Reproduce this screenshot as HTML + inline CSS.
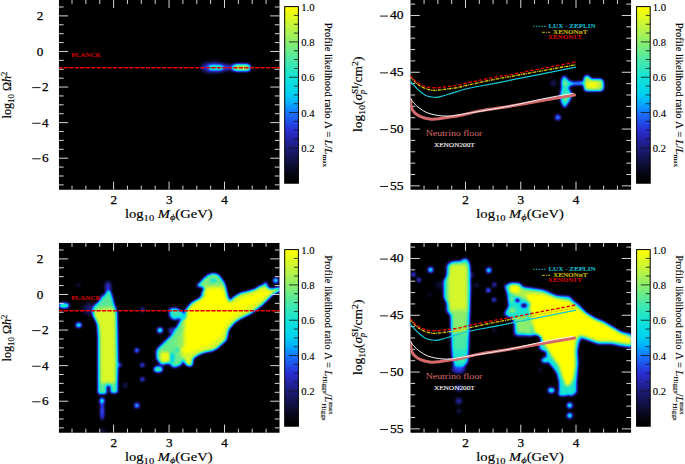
<!DOCTYPE html><html><head><meta charset="utf-8"><style>html,body{margin:0;padding:0;background:#fff;overflow:hidden}svg{display:block}text{font-family:"Liberation Serif",serif;stroke:#000;stroke-width:0.25px}</style></head><body>
<svg width="685" height="464" viewBox="0 0 685 464">
<defs>
<filter id="cm" x="0" y="0" width="1" height="1" color-interpolation-filters="sRGB"><feGaussianBlur stdDeviation="1.6"/><feComponentTransfer><feFuncR type="table" tableValues="0.000 0.004 0.016 0.031 0.051 0.067 0.078 0.094 0.110 0.125 0.137 0.153 0.165 0.145 0.125 0.106 0.086 0.055 0.020 0.012 0.000 0.020 0.035 0.051 0.071 0.125 0.184 0.239 0.294 0.357 0.424 0.486 0.549 0.608 0.671 0.729 0.792 0.843 0.894 0.949 1.000"/><feFuncG type="table" tableValues="0.000 0.004 0.016 0.031 0.051 0.067 0.078 0.094 0.110 0.125 0.141 0.161 0.176 0.247 0.318 0.392 0.463 0.565 0.667 0.741 0.816 0.835 0.855 0.875 0.894 0.898 0.902 0.910 0.914 0.918 0.925 0.929 0.933 0.941 0.949 0.953 0.961 0.973 0.980 0.988 1.000"/><feFuncB type="table" tableValues="0.000 0.024 0.067 0.129 0.196 0.267 0.337 0.408 0.478 0.565 0.655 0.745 0.831 0.875 0.918 0.957 1.000 0.996 0.988 0.969 0.949 0.922 0.894 0.871 0.843 0.792 0.745 0.694 0.647 0.592 0.533 0.478 0.424 0.373 0.322 0.267 0.216 0.161 0.110 0.055 0.000"/></feComponentTransfer></filter>
<filter id="b2" x="-1" y="-1" width="3" height="3" color-interpolation-filters="sRGB"><feGaussianBlur stdDeviation="1.6"/></filter>
<filter id="b3" x="-1" y="-1" width="3" height="3" color-interpolation-filters="sRGB"><feGaussianBlur stdDeviation="2.4"/></filter>
<linearGradient id="cbg" x1="0" y1="1" x2="0" y2="0">
<stop offset="0.000" stop-color="rgb(0,0,0)"/>
<stop offset="0.025" stop-color="rgb(1,1,6)"/>
<stop offset="0.050" stop-color="rgb(4,4,17)"/>
<stop offset="0.075" stop-color="rgb(8,8,33)"/>
<stop offset="0.100" stop-color="rgb(13,13,50)"/>
<stop offset="0.125" stop-color="rgb(17,17,68)"/>
<stop offset="0.150" stop-color="rgb(20,20,86)"/>
<stop offset="0.175" stop-color="rgb(24,24,104)"/>
<stop offset="0.200" stop-color="rgb(28,28,122)"/>
<stop offset="0.225" stop-color="rgb(32,32,144)"/>
<stop offset="0.250" stop-color="rgb(35,36,167)"/>
<stop offset="0.275" stop-color="rgb(39,41,190)"/>
<stop offset="0.300" stop-color="rgb(42,45,212)"/>
<stop offset="0.325" stop-color="rgb(37,63,223)"/>
<stop offset="0.350" stop-color="rgb(32,81,234)"/>
<stop offset="0.375" stop-color="rgb(27,100,244)"/>
<stop offset="0.400" stop-color="rgb(22,118,255)"/>
<stop offset="0.425" stop-color="rgb(14,144,254)"/>
<stop offset="0.450" stop-color="rgb(5,170,252)"/>
<stop offset="0.475" stop-color="rgb(3,189,247)"/>
<stop offset="0.500" stop-color="rgb(0,208,242)"/>
<stop offset="0.525" stop-color="rgb(5,213,235)"/>
<stop offset="0.550" stop-color="rgb(9,218,228)"/>
<stop offset="0.575" stop-color="rgb(13,223,222)"/>
<stop offset="0.600" stop-color="rgb(18,228,215)"/>
<stop offset="0.625" stop-color="rgb(32,229,202)"/>
<stop offset="0.650" stop-color="rgb(47,230,190)"/>
<stop offset="0.675" stop-color="rgb(61,232,177)"/>
<stop offset="0.700" stop-color="rgb(75,233,165)"/>
<stop offset="0.725" stop-color="rgb(91,234,151)"/>
<stop offset="0.750" stop-color="rgb(108,236,136)"/>
<stop offset="0.775" stop-color="rgb(124,237,122)"/>
<stop offset="0.800" stop-color="rgb(140,238,108)"/>
<stop offset="0.825" stop-color="rgb(155,240,95)"/>
<stop offset="0.850" stop-color="rgb(171,242,82)"/>
<stop offset="0.875" stop-color="rgb(186,243,68)"/>
<stop offset="0.900" stop-color="rgb(202,245,55)"/>
<stop offset="0.925" stop-color="rgb(215,248,41)"/>
<stop offset="0.950" stop-color="rgb(228,250,28)"/>
<stop offset="0.975" stop-color="rgb(242,252,14)"/>
<stop offset="1.000" stop-color="rgb(255,255,0)"/>
</linearGradient>
<clipPath id="clipLT"><rect x="58.96" y="-0.1" width="220.54" height="189.75"/></clipPath>
<clipPath id="clipLB"><rect x="58.96" y="242.9" width="220.54" height="189.75"/></clipPath>
<clipPath id="clipRT"><rect x="410.5" y="-0.1" width="220.57000000000005" height="189.75"/></clipPath>
<clipPath id="clipRB"><rect x="410.5" y="242.9" width="220.57000000000005" height="189.75"/></clipPath>
</defs>
<rect width="685" height="464" fill="#fff"/>
<g clip-path="url(#clipLT)"><g filter="url(#cm)">
<rect x="48.96" y="-10.1" width="240.54" height="209.75" fill="#000"/>
<ellipse cx="213.0" cy="67.5" rx="12.5" ry="4.2" fill="rgb(107,107,107)" filter="url(#b3)"/>
<rect x="221" y="65" width="12" height="5" fill="rgb(102,102,102)" filter="url(#b2)"/>
<rect x="208.5" y="64.9" width="14.5" height="5.4" rx="2.7" fill="rgb(168,168,168)"/>
<rect x="232.2" y="63.9" width="18.6" height="7.4" rx="3.6" fill="rgb(184,184,184)"/>
<rect x="235" y="65.3" width="13" height="4.6" rx="2.3" fill="rgb(230,230,230)"/>
</g></g>
<g clip-path="url(#clipLB)"><g filter="url(#cm)">
<rect x="48.96" y="232.9" width="240.54" height="209.75" fill="#000"/>
<ellipse cx="64.0" cy="305.5" rx="5.5" ry="2.8" fill="rgb(173,173,173)"/>
<circle cx="78.3" cy="285.3" r="1.8" fill="rgb(76,76,76)" filter="url(#b2)"/>
<ellipse cx="78.7" cy="325.0" rx="3" ry="2.6" fill="rgb(168,168,168)"/>
<ellipse cx="89.0" cy="309.0" rx="6" ry="6" fill="rgb(56,56,56)" filter="url(#b3)"/>
<ellipse cx="108.0" cy="287.0" rx="3" ry="6" fill="rgb(92,92,92)" filter="url(#b2)"/>
<polygon points="107.0,291.0 110.5,291.0 112.5,299.0 114.5,305.0 117.0,312.0 117.5,330.0 118.0,360.0 117.5,384.0 117.5,393.0 110.5,393.0 110.5,385.5 106.5,385.5 106.5,394.0 98.0,394.0 98.0,360.0 98.0,336.0 97.0,323.0 93.0,315.5 92.5,310.0 94.0,306.0 99.5,301.0 104.0,296.5" fill="rgb(184,184,184)" />
<polygon points="94.5,311.0 100.0,308.5 108.0,306.0 113.5,308.0 115.3,316.0 115.5,382.0 111.5,384.0 108.0,382.0 104.0,384.0 100.5,382.0 100.3,340.0 99.5,326.0 96.5,321.5 94.0,316.0" fill="rgb(237,237,237)" />
<rect x="101" y="296" width="11" height="12" fill="rgb(184,184,184)" filter="url(#b2)"/>
<ellipse cx="102.0" cy="401.0" rx="2.5" ry="3.3" fill="rgb(168,168,168)"/>
<ellipse cx="102.2" cy="411.0" rx="2.2" ry="9.5" fill="rgb(102,102,102)"/>
<circle cx="102.6" cy="430.6" r="2" fill="rgb(71,71,71)" filter="url(#b2)"/>
<ellipse cx="119.5" cy="365.0" rx="2.5" ry="2" fill="rgb(107,107,107)"/>
<circle cx="125.3" cy="385.2" r="2.2" fill="rgb(76,76,76)" filter="url(#b2)"/>
<circle cx="136.9" cy="350.4" r="2.4" fill="rgb(133,133,133)"/>
<circle cx="136.9" cy="405.4" r="2.6" fill="rgb(140,140,140)"/>
<circle cx="142.4" cy="365.1" r="2.3" fill="rgb(112,112,112)"/>
<circle cx="142.4" cy="379.3" r="2.3" fill="rgb(107,107,107)"/>
<circle cx="142.6" cy="309.7" r="2.2" fill="rgb(92,92,92)"/>
<circle cx="199.3" cy="285.2" r="2.2" fill="rgb(158,158,158)"/>
<polygon points="169.0,308.5 176.0,307.8 182.0,311.0 185.0,315.0 183.5,319.4 178.5,318.5 174.0,320.2 169.5,316.5" fill="rgb(158,158,158)" />
<ellipse cx="176.0" cy="313.0" rx="3.5" ry="2.5" fill="rgb(178,178,178)"/>
<circle cx="160.0" cy="330.3" r="2.7" fill="rgb(184,184,184)"/>
<ellipse cx="172.4" cy="330.6" rx="4.3" ry="2.8" fill="rgb(107,107,107)"/>
<ellipse cx="172.4" cy="330.6" rx="2.4" ry="1.2" fill="rgb(13,13,13)"/>
<ellipse cx="158.2" cy="369.3" rx="4.5" ry="3" fill="rgb(184,184,184)"/>
<circle cx="275.7" cy="280.4" r="2.6" fill="rgb(163,163,163)"/>
<circle cx="265.5" cy="284.5" r="2.2" fill="rgb(153,153,153)"/>
<polygon points="213.3,273.6 218.5,275.0 223.8,282.2 225.8,288.0 227.5,295.8 229.6,301.5 234.0,297.0 241.0,293.0 248.0,291.5 255.0,289.3 260.6,285.8 265.0,285.5 270.4,289.0 276.0,288.3 280.0,287.3 280.0,290.8 273.2,294.0 267.6,299.4 262.0,305.0 256.4,309.2 250.8,313.4 245.2,316.2 239.6,319.0 234.0,323.0 228.6,329.5 226.2,340.0 221.5,344.3 217.0,348.3 212.5,350.8 203.5,352.5 197.5,355.3 193.0,358.5 192.2,366.0 188.5,366.0 185.6,364.6 183.2,358.6 180.8,364.6 173.7,367.0 169.0,362.2 161.9,364.6 157.1,358.6 157.1,350.3 164.2,343.2 169.0,338.5 173.7,333.8 178.4,325.5 180.8,320.7 185.6,318.3 185.6,310.0 191.5,302.9 199.8,298.2 205.7,293.4 200.7,296.0 204.5,288.3 199.4,284.6 203.0,279.5 208.0,275.3" fill="rgb(237,237,237)" />
<polygon points="208.0,289.0 215.0,287.5 223.0,289.5 226.0,300.0 232.0,304.0 248.0,296.0 262.0,291.0 272.0,291.0 256.0,303.0 240.0,312.0 228.0,322.0 221.0,336.0 210.0,345.0 196.0,350.0 186.0,353.0 178.0,350.0 172.0,346.0 176.0,336.0 183.0,324.0 189.0,311.0 198.0,302.0 205.0,295.0" fill="rgb(255,255,255)" />
<polygon points="157.0,350.0 164.0,343.0 169.0,338.5 174.0,334.0 178.4,325.5 181.0,321.0 185.0,322.0 183.5,332.0 181.0,342.0 179.0,350.0 183.0,358.6 180.8,364.6 173.7,367.0 169.0,362.2 161.9,364.6 157.1,358.6" fill="rgb(189,189,189)" filter="url(#b2)"/>
<rect x="160.5" y="352" width="9" height="10" rx="1.5" fill="rgb(247,247,247)"/>
<rect x="176" y="336" width="8" height="12" fill="rgb(204,204,204)" filter="url(#b2)"/>
<rect x="171.2" y="353.5" width="2" height="9" fill="rgb(64,64,64)"/>
<circle cx="177.6" cy="349.7" r="1.8" fill="rgb(128,128,128)"/>
<polygon points="201.0,284.0 204.0,280.0 209.0,276.0 213.3,274.6 218.0,276.3 222.5,282.5 223.5,286.0 215.0,285.5 206.0,286.0" fill="rgb(184,184,184)" filter="url(#b2)"/>
<circle cx="213.3" cy="275.8" r="1.5" fill="rgb(217,217,217)"/>
<circle cx="207.0" cy="280.8" r="1.8" fill="rgb(217,217,217)"/>
<circle cx="223.5" cy="285.4" r="1.7" fill="rgb(217,217,217)"/>
<circle cx="213.3" cy="280.2" r="1.3" fill="rgb(76,76,76)"/>
</g></g>
<g clip-path="url(#clipRT)"><g filter="url(#cm)">
<rect x="400.5" y="-10.1" width="240.57000000000005" height="209.75" fill="#000"/>
<circle cx="553.4" cy="83.1" r="3.2" fill="rgb(51,51,51)" filter="url(#b2)"/>
<circle cx="557.9" cy="117.4" r="3.0" fill="rgb(115,115,115)"/>
<polygon points="567.0,80.0 574.0,82.0 584.0,81.2 584.0,85.0 574.0,85.0 567.0,87.5" fill="rgb(143,143,143)" />
<polygon points="562.0,78.0 564.4,75.5 567.0,78.0 569.0,82.0 568.5,88.0 571.0,92.0 572.0,96.0 569.0,102.0 564.5,108.5 561.0,102.0 559.8,96.0 561.5,88.0 561.2,82.0" fill="rgb(163,163,163)" />
<ellipse cx="565.0" cy="83.1" rx="2.5" ry="3" fill="rgb(194,194,194)"/>
<ellipse cx="565.8" cy="97.0" rx="3" ry="3.5" fill="rgb(189,189,189)"/>
<path d="M584,79 Q584,75 588,75.5 Q590,77 591,79 L600,79 Q603.5,79 603.5,83 L603.5,87.5 Q603.5,91 600,91 L587,91 Q584,91 584,87.5 Z" fill="rgb(219,219,219)"/>
<ellipse cx="592.0" cy="85.0" rx="6.5" ry="3.5" fill="rgb(250,250,250)"/>
</g></g>
<g clip-path="url(#clipRB)"><g filter="url(#cm)">
<rect x="400.5" y="232.9" width="240.57000000000005" height="209.75" fill="#000"/>
<circle cx="430.6" cy="269.7" r="2.8" fill="rgb(158,158,158)"/>
<circle cx="413.4" cy="274.5" r="2.2" fill="rgb(115,115,115)"/>
<circle cx="418.8" cy="279.9" r="2.2" fill="rgb(115,115,115)"/>
<circle cx="488.8" cy="270.2" r="2.8" fill="rgb(153,153,153)"/>
<circle cx="476.7" cy="285.2" r="2" fill="rgb(76,76,76)" filter="url(#b2)"/>
<circle cx="494.3" cy="284.7" r="2.2" fill="rgb(97,97,97)"/>
<circle cx="488.3" cy="290.3" r="2.4" fill="rgb(128,128,128)"/>
<circle cx="494.0" cy="299.8" r="2.3" fill="rgb(107,107,107)"/>
<circle cx="471.9" cy="274.8" r="2" fill="rgb(84,84,84)" filter="url(#b2)"/>
<circle cx="494.3" cy="330.0" r="2" fill="rgb(66,66,66)" filter="url(#b2)"/>
<circle cx="429.6" cy="295.0" r="2" fill="rgb(56,56,56)" filter="url(#b2)"/>
<circle cx="439.3" cy="285.3" r="3" fill="rgb(61,61,61)" filter="url(#b3)"/>
<circle cx="540.6" cy="369.9" r="1.8" fill="rgb(71,71,71)" filter="url(#b2)"/>
<circle cx="569.7" cy="405.4" r="2.8" fill="rgb(163,163,163)"/>
<circle cx="569.7" cy="415.6" r="2.8" fill="rgb(163,163,163)"/>
<ellipse cx="551.3" cy="390.3" rx="3.5" ry="2.8" fill="rgb(163,163,163)"/>
<ellipse cx="563.0" cy="393.5" rx="5" ry="2.6" fill="rgb(158,158,158)"/>
<ellipse cx="544.9" cy="360.2" rx="3.5" ry="2.6" fill="rgb(163,163,163)"/>
<ellipse cx="458.5" cy="369.0" rx="7" ry="4.5" fill="rgb(87,87,87)" filter="url(#b2)"/>
<circle cx="458.8" cy="388.2" r="3" fill="rgb(92,92,92)" filter="url(#b2)"/>
<circle cx="458.8" cy="401.1" r="3" fill="rgb(92,92,92)" filter="url(#b2)"/>
<circle cx="458.8" cy="411.0" r="2.5" fill="rgb(56,56,56)" filter="url(#b2)"/>
<polygon points="450.5,263.5 452.5,261.5 461.0,261.0 463.0,258.8 466.5,258.5 468.8,261.0 470.0,266.0 470.5,290.0 469.5,320.0 468.5,350.0 468.0,362.0 464.0,366.5 454.0,366.0 452.0,355.0 451.0,330.0 450.5,305.0 447.0,302.5 443.6,298.0 443.6,280.0 447.0,276.6 450.0,272.0" fill="rgb(158,158,158)" />
<rect x="447.5" y="263.5" width="20.5" height="50" rx="3" fill="rgb(235,235,235)" filter="url(#b2)"/>
<rect x="452" y="310" width="15.5" height="26" fill="rgb(204,204,204)" filter="url(#b2)"/>
<rect x="453" y="334" width="14" height="16" fill="rgb(178,178,178)" filter="url(#b2)"/>
<circle cx="462.0" cy="359.5" r="2.5" fill="rgb(189,189,189)"/>
<polygon points="504.5,285.5 510.7,283.0 519.7,283.5 522.3,287.3 532.7,288.7 541.7,290.0 546.9,293.0 557.2,295.7 570.0,296.4 572.2,299.8 579.1,305.0 586.0,312.7 594.7,317.9 603.3,321.3 611.9,326.5 620.5,331.7 632.0,334.3 632.0,347.6 620.5,345.9 611.9,344.1 598.1,344.1 589.5,340.7 580.9,338.1 579.1,342.4 577.4,351.0 578.3,363.1 577.4,373.4 576.6,383.8 576.6,392.4 572.2,395.9 567.5,395.0 559.0,395.0 558.9,381.7 556.7,373.1 552.3,367.0 549.3,363.4 546.3,357.3 546.3,352.0 540.3,349.8 538.7,345.3 541.8,339.2 538.7,334.7 529.7,335.5 522.2,332.4 516.1,327.2 513.1,319.6 504.0,314.3 508.6,306.0 507.2,294.5" fill="rgb(158,158,158)" />
<polygon points="510.0,284.5 519.0,284.5 523.0,288.5 546.0,291.5 556.0,297.5 533.0,299.0 520.0,298.5 512.0,294.5" fill="rgb(219,219,219)" filter="url(#b2)"/>
<polygon points="526.0,294.5 533.0,293.5 546.0,295.0 556.0,298.0 570.0,300.8 574.0,305.0 581.0,310.0 588.0,315.0 596.0,320.0 605.0,324.0 614.0,329.0 622.0,334.0 632.0,337.0 632.0,344.5 621.0,343.0 612.0,341.5 598.0,341.5 589.0,338.0 580.0,335.0 576.0,340.0 575.0,352.0 575.5,365.0 573.5,378.0 570.0,385.0 566.0,386.0 562.0,376.0 559.0,366.0 553.0,358.0 548.0,350.0 544.0,344.0 541.0,337.0 535.0,333.0 533.0,326.0 530.0,320.0 532.0,314.0 529.0,309.0 531.0,304.0 527.0,300.0" fill="rgb(255,255,255)" />
<rect x="509.5" y="284.8" width="10" height="8" rx="2" fill="rgb(255,255,255)"/>
<ellipse cx="511.7" cy="299.6" rx="3" ry="1.6" fill="rgb(204,204,204)"/>
<ellipse cx="512.3" cy="310.2" rx="3.5" ry="1.8" fill="rgb(217,217,217)"/>
<circle cx="517.5" cy="300.2" r="2.3" fill="rgb(0,0,0)"/>
<ellipse cx="524.0" cy="305.5" rx="3.2" ry="2.1" fill="rgb(0,0,0)"/>
<rect x="515" y="318" width="17" height="17" fill="rgb(204,204,204)" filter="url(#b2)"/>
<circle cx="527.8" cy="316.0" r="1.5" fill="rgb(89,89,89)"/>
</g></g>
<path d="M72.01 189.65v-4.0M72.01 -0.1v4.0M85.88 189.65v-4.0M85.88 -0.1v4.0M99.74 189.65v-4.0M99.74 -0.1v4.0M113.60 189.65v-8.0M113.60 -0.1v8.0M127.46 189.65v-4.0M127.46 -0.1v4.0M141.32 189.65v-4.0M141.32 -0.1v4.0M155.19 189.65v-4.0M155.19 -0.1v4.0M169.05 189.65v-8.0M169.05 -0.1v8.0M182.91 189.65v-4.0M182.91 -0.1v4.0M196.78 189.65v-4.0M196.78 -0.1v4.0M210.64 189.65v-4.0M210.64 -0.1v4.0M224.50 189.65v-8.0M224.50 -0.1v8.0M238.36 189.65v-4.0M238.36 -0.1v4.0M252.22 189.65v-4.0M252.22 -0.1v4.0M266.09 189.65v-4.0M266.09 -0.1v4.0M58.96 184.89h4.7M279.5 184.89h-4.7M58.96 176.00h4.7M279.5 176.00h-4.7M58.96 167.10h4.7M279.5 167.10h-4.7M58.96 158.21h9.2M279.5 158.21h-9.2M58.96 149.31h4.7M279.5 149.31h-4.7M58.96 140.42h4.7M279.5 140.42h-4.7M58.96 131.52h4.7M279.5 131.52h-4.7M58.96 122.63h9.2M279.5 122.63h-9.2M58.96 113.73h4.7M279.5 113.73h-4.7M58.96 104.84h4.7M279.5 104.84h-4.7M58.96 95.94h4.7M279.5 95.94h-4.7M58.96 87.05h9.2M279.5 87.05h-9.2M58.96 78.16h4.7M279.5 78.16h-4.7M58.96 69.26h4.7M279.5 69.26h-4.7M58.96 60.36h4.7M279.5 60.36h-4.7M58.96 51.47h9.2M279.5 51.47h-9.2M58.96 42.58h4.7M279.5 42.58h-4.7M58.96 33.68h4.7M279.5 33.68h-4.7M58.96 24.79h4.7M279.5 24.79h-4.7M58.96 15.89h9.2M279.5 15.89h-9.2M58.96 7.00h4.7M279.5 7.00h-4.7" stroke="#d6d6d6" stroke-width="1" fill="none"/>
<path d="M72.01 432.65v-4.0M72.01 242.9v4.0M85.88 432.65v-4.0M85.88 242.9v4.0M99.74 432.65v-4.0M99.74 242.9v4.0M113.60 432.65v-8.0M113.60 242.9v8.0M127.46 432.65v-4.0M127.46 242.9v4.0M141.32 432.65v-4.0M141.32 242.9v4.0M155.19 432.65v-4.0M155.19 242.9v4.0M169.05 432.65v-8.0M169.05 242.9v8.0M182.91 432.65v-4.0M182.91 242.9v4.0M196.78 432.65v-4.0M196.78 242.9v4.0M210.64 432.65v-4.0M210.64 242.9v4.0M224.50 432.65v-8.0M224.50 242.9v8.0M238.36 432.65v-4.0M238.36 242.9v4.0M252.22 432.65v-4.0M252.22 242.9v4.0M266.09 432.65v-4.0M266.09 242.9v4.0M58.96 427.89h4.7M279.5 427.89h-4.7M58.96 419.00h4.7M279.5 419.00h-4.7M58.96 410.11h4.7M279.5 410.11h-4.7M58.96 401.21h9.2M279.5 401.21h-9.2M58.96 392.31h4.7M279.5 392.31h-4.7M58.96 383.42h4.7M279.5 383.42h-4.7M58.96 374.52h4.7M279.5 374.52h-4.7M58.96 365.63h9.2M279.5 365.63h-9.2M58.96 356.74h4.7M279.5 356.74h-4.7M58.96 347.84h4.7M279.5 347.84h-4.7M58.96 338.94h4.7M279.5 338.94h-4.7M58.96 330.05h9.2M279.5 330.05h-9.2M58.96 321.15h4.7M279.5 321.15h-4.7M58.96 312.26h4.7M279.5 312.26h-4.7M58.96 303.37h4.7M279.5 303.37h-4.7M58.96 294.47h9.2M279.5 294.47h-9.2M58.96 285.57h4.7M279.5 285.57h-4.7M58.96 276.68h4.7M279.5 276.68h-4.7M58.96 267.79h4.7M279.5 267.79h-4.7M58.96 258.89h9.2M279.5 258.89h-9.2M58.96 250.00h4.7M279.5 250.00h-4.7" stroke="#d6d6d6" stroke-width="1" fill="none"/>
<path d="M424.06 189.65v-4.0M424.06 -0.1v4.0M437.88 189.65v-4.0M437.88 -0.1v4.0M451.69 189.65v-4.0M451.69 -0.1v4.0M465.50 189.65v-8.0M465.50 -0.1v8.0M479.31 189.65v-4.0M479.31 -0.1v4.0M493.12 189.65v-4.0M493.12 -0.1v4.0M506.94 189.65v-4.0M506.94 -0.1v4.0M520.75 189.65v-8.0M520.75 -0.1v8.0M534.56 189.65v-4.0M534.56 -0.1v4.0M548.38 189.65v-4.0M548.38 -0.1v4.0M562.19 189.65v-4.0M562.19 -0.1v4.0M576.00 189.65v-8.0M576.00 -0.1v8.0M589.81 189.65v-4.0M589.81 -0.1v4.0M603.62 189.65v-4.0M603.62 -0.1v4.0M617.44 189.65v-4.0M617.44 -0.1v4.0M410.5 185.87h9.3M631.07 185.87h-9.3M410.5 174.51h4.7M631.07 174.51h-4.7M410.5 163.15h4.7M631.07 163.15h-4.7M410.5 151.79h4.7M631.07 151.79h-4.7M410.5 140.43h4.7M631.07 140.43h-4.7M410.5 129.07h9.3M631.07 129.07h-9.3M410.5 117.71h4.7M631.07 117.71h-4.7M410.5 106.35h4.7M631.07 106.35h-4.7M410.5 94.99h4.7M631.07 94.99h-4.7M410.5 83.63h4.7M631.07 83.63h-4.7M410.5 72.27h9.3M631.07 72.27h-9.3M410.5 60.91h4.7M631.07 60.91h-4.7M410.5 49.55h4.7M631.07 49.55h-4.7M410.5 38.19h4.7M631.07 38.19h-4.7M410.5 26.83h4.7M631.07 26.83h-4.7M410.5 15.47h9.3M631.07 15.47h-9.3M410.5 4.11h4.7M631.07 4.11h-4.7" stroke="#d6d6d6" stroke-width="1" fill="none"/>
<path d="M424.06 432.65v-4.0M424.06 242.9v4.0M437.88 432.65v-4.0M437.88 242.9v4.0M451.69 432.65v-4.0M451.69 242.9v4.0M465.50 432.65v-8.0M465.50 242.9v8.0M479.31 432.65v-4.0M479.31 242.9v4.0M493.12 432.65v-4.0M493.12 242.9v4.0M506.94 432.65v-4.0M506.94 242.9v4.0M520.75 432.65v-8.0M520.75 242.9v8.0M534.56 432.65v-4.0M534.56 242.9v4.0M548.38 432.65v-4.0M548.38 242.9v4.0M562.19 432.65v-4.0M562.19 242.9v4.0M576.00 432.65v-8.0M576.00 242.9v8.0M589.81 432.65v-4.0M589.81 242.9v4.0M603.62 432.65v-4.0M603.62 242.9v4.0M617.44 432.65v-4.0M617.44 242.9v4.0M410.5 428.87h9.3M631.07 428.87h-9.3M410.5 417.51h4.7M631.07 417.51h-4.7M410.5 406.15h4.7M631.07 406.15h-4.7M410.5 394.79h4.7M631.07 394.79h-4.7M410.5 383.43h4.7M631.07 383.43h-4.7M410.5 372.07h9.3M631.07 372.07h-9.3M410.5 360.71h4.7M631.07 360.71h-4.7M410.5 349.35h4.7M631.07 349.35h-4.7M410.5 337.99h4.7M631.07 337.99h-4.7M410.5 326.63h4.7M631.07 326.63h-4.7M410.5 315.27h9.3M631.07 315.27h-9.3M410.5 303.91h4.7M631.07 303.91h-4.7M410.5 292.55h4.7M631.07 292.55h-4.7M410.5 281.19h4.7M631.07 281.19h-4.7M410.5 269.83h4.7M631.07 269.83h-4.7M410.5 258.47h9.3M631.07 258.47h-9.3M410.5 247.11h4.7M631.07 247.11h-4.7" stroke="#d6d6d6" stroke-width="1" fill="none"/>
<rect x="284.7" y="6.6" width="13.699999999999989" height="176.6" fill="url(#cbg)" stroke="#000" stroke-width="1"/>
<path d="M298.4 174.37h-4.5M298.4 165.54h-4.5M298.4 156.71h-4.5M298.4 147.88h-9.4M298.4 139.05h-4.5M298.4 130.22h-4.5M298.4 121.39h-4.5M298.4 112.56h-9.4M298.4 103.73h-4.5M298.4 94.90h-4.5M298.4 86.07h-4.5M298.4 77.24h-9.4M298.4 68.41h-4.5M298.4 59.58h-4.5M298.4 50.75h-4.5M298.4 41.92h-9.4M298.4 33.09h-4.5M298.4 24.26h-4.5M298.4 15.43h-4.5" stroke="#111" stroke-opacity="0.8" stroke-width="1" fill="none"/>
<text x="301.2" y="152.0" font-size="10" style="stroke-width:0.1px" textLength="13.3" lengthAdjust="spacingAndGlyphs">0.2</text>
<text x="301.2" y="116.7" font-size="10" style="stroke-width:0.1px" textLength="13.3" lengthAdjust="spacingAndGlyphs">0.4</text>
<text x="301.2" y="81.3" font-size="10" style="stroke-width:0.1px" textLength="13.3" lengthAdjust="spacingAndGlyphs">0.6</text>
<text x="301.2" y="46.0" font-size="10" style="stroke-width:0.1px" textLength="13.3" lengthAdjust="spacingAndGlyphs">0.8</text>
<text x="301.2" y="10.7" font-size="10" style="stroke-width:0.1px" textLength="13.3" lengthAdjust="spacingAndGlyphs">1.0</text>
<text transform="translate(324.8,94.9) rotate(90)" text-anchor="middle" font-size="10" style="stroke-width:0.12px" textLength="144.5" lengthAdjust="spacingAndGlyphs">Profile likelihood ratio Λ = <tspan font-style="italic">L</tspan>/<tspan font-style="italic">L</tspan><tspan font-size="7" dy="2">max</tspan></text>
<rect x="636.6" y="6.6" width="13.600000000000023" height="176.6" fill="url(#cbg)" stroke="#000" stroke-width="1"/>
<path d="M650.2 174.37h-4.5M650.2 165.54h-4.5M650.2 156.71h-4.5M650.2 147.88h-9.4M650.2 139.05h-4.5M650.2 130.22h-4.5M650.2 121.39h-4.5M650.2 112.56h-9.4M650.2 103.73h-4.5M650.2 94.90h-4.5M650.2 86.07h-4.5M650.2 77.24h-9.4M650.2 68.41h-4.5M650.2 59.58h-4.5M650.2 50.75h-4.5M650.2 41.92h-9.4M650.2 33.09h-4.5M650.2 24.26h-4.5M650.2 15.43h-4.5" stroke="#111" stroke-opacity="0.8" stroke-width="1" fill="none"/>
<text x="652.7" y="152.0" font-size="10" style="stroke-width:0.1px" textLength="13.3" lengthAdjust="spacingAndGlyphs">0.2</text>
<text x="652.7" y="116.7" font-size="10" style="stroke-width:0.1px" textLength="13.3" lengthAdjust="spacingAndGlyphs">0.4</text>
<text x="652.7" y="81.3" font-size="10" style="stroke-width:0.1px" textLength="13.3" lengthAdjust="spacingAndGlyphs">0.6</text>
<text x="652.7" y="46.0" font-size="10" style="stroke-width:0.1px" textLength="13.3" lengthAdjust="spacingAndGlyphs">0.8</text>
<text x="652.7" y="10.7" font-size="10" style="stroke-width:0.1px" textLength="13.3" lengthAdjust="spacingAndGlyphs">1.0</text>
<text transform="translate(676.3,94.9) rotate(90)" text-anchor="middle" font-size="10" style="stroke-width:0.12px" textLength="144.5" lengthAdjust="spacingAndGlyphs">Profile likelihood ratio Λ = <tspan font-style="italic">L</tspan>/<tspan font-style="italic">L</tspan><tspan font-size="7" dy="2">max</tspan></text>
<rect x="284.7" y="249.6" width="13.699999999999989" height="176.6" fill="url(#cbg)" stroke="#000" stroke-width="1"/>
<path d="M298.4 417.37h-4.5M298.4 408.54h-4.5M298.4 399.71h-4.5M298.4 390.88h-9.4M298.4 382.05h-4.5M298.4 373.22h-4.5M298.4 364.39h-4.5M298.4 355.56h-9.4M298.4 346.73h-4.5M298.4 337.90h-4.5M298.4 329.07h-4.5M298.4 320.24h-9.4M298.4 311.41h-4.5M298.4 302.58h-4.5M298.4 293.75h-4.5M298.4 284.92h-9.4M298.4 276.09h-4.5M298.4 267.26h-4.5M298.4 258.43h-4.5" stroke="#111" stroke-opacity="0.8" stroke-width="1" fill="none"/>
<text x="301.2" y="395.0" font-size="10" style="stroke-width:0.1px" textLength="13.3" lengthAdjust="spacingAndGlyphs">0.2</text>
<text x="301.2" y="359.7" font-size="10" style="stroke-width:0.1px" textLength="13.3" lengthAdjust="spacingAndGlyphs">0.4</text>
<text x="301.2" y="324.3" font-size="10" style="stroke-width:0.1px" textLength="13.3" lengthAdjust="spacingAndGlyphs">0.6</text>
<text x="301.2" y="289.0" font-size="10" style="stroke-width:0.1px" textLength="13.3" lengthAdjust="spacingAndGlyphs">0.8</text>
<text x="301.2" y="253.7" font-size="10" style="stroke-width:0.1px" textLength="13.3" lengthAdjust="spacingAndGlyphs">1.0</text>
<text transform="translate(324.8,337.9) rotate(90)" text-anchor="middle" font-size="10" style="stroke-width:0.12px" textLength="165.5" lengthAdjust="spacingAndGlyphs">Profile likelihood ratio Λ = <tspan font-style="italic">L</tspan><tspan font-size="7" dy="2">Higgs</tspan><tspan dy="-2">/</tspan><tspan font-style="italic">L</tspan><tspan font-size="7" dy="-4">max</tspan><tspan font-size="7" dx="-11" dy="7">Higgs</tspan></text>
<rect x="636.6" y="249.6" width="13.600000000000023" height="176.6" fill="url(#cbg)" stroke="#000" stroke-width="1"/>
<path d="M650.2 417.37h-4.5M650.2 408.54h-4.5M650.2 399.71h-4.5M650.2 390.88h-9.4M650.2 382.05h-4.5M650.2 373.22h-4.5M650.2 364.39h-4.5M650.2 355.56h-9.4M650.2 346.73h-4.5M650.2 337.90h-4.5M650.2 329.07h-4.5M650.2 320.24h-9.4M650.2 311.41h-4.5M650.2 302.58h-4.5M650.2 293.75h-4.5M650.2 284.92h-9.4M650.2 276.09h-4.5M650.2 267.26h-4.5M650.2 258.43h-4.5" stroke="#111" stroke-opacity="0.8" stroke-width="1" fill="none"/>
<text x="652.7" y="395.0" font-size="10" style="stroke-width:0.1px" textLength="13.3" lengthAdjust="spacingAndGlyphs">0.2</text>
<text x="652.7" y="359.7" font-size="10" style="stroke-width:0.1px" textLength="13.3" lengthAdjust="spacingAndGlyphs">0.4</text>
<text x="652.7" y="324.3" font-size="10" style="stroke-width:0.1px" textLength="13.3" lengthAdjust="spacingAndGlyphs">0.6</text>
<text x="652.7" y="289.0" font-size="10" style="stroke-width:0.1px" textLength="13.3" lengthAdjust="spacingAndGlyphs">0.8</text>
<text x="652.7" y="253.7" font-size="10" style="stroke-width:0.1px" textLength="13.3" lengthAdjust="spacingAndGlyphs">1.0</text>
<text transform="translate(676.3,337.9) rotate(90)" text-anchor="middle" font-size="10" style="stroke-width:0.12px" textLength="165.5" lengthAdjust="spacingAndGlyphs">Profile likelihood ratio Λ = <tspan font-style="italic">L</tspan><tspan font-size="7" dy="2">Higgs</tspan><tspan dy="-2">/</tspan><tspan font-style="italic">L</tspan><tspan font-size="7" dy="-4">max</tspan><tspan font-size="7" dx="-11" dy="7">Higgs</tspan></text>
<text x="113.7" y="203.9" text-anchor="middle" font-size="12" textLength="6.6" lengthAdjust="spacingAndGlyphs">2</text>
<text x="169.2" y="203.9" text-anchor="middle" font-size="12" textLength="6.6" lengthAdjust="spacingAndGlyphs">3</text>
<text x="224.6" y="203.9" text-anchor="middle" font-size="12" textLength="6.6" lengthAdjust="spacingAndGlyphs">4</text>
<text x="465.6" y="203.9" text-anchor="middle" font-size="12" textLength="6.6" lengthAdjust="spacingAndGlyphs">2</text>
<text x="520.9" y="203.9" text-anchor="middle" font-size="12" textLength="6.6" lengthAdjust="spacingAndGlyphs">3</text>
<text x="576.1" y="203.9" text-anchor="middle" font-size="12" textLength="6.6" lengthAdjust="spacingAndGlyphs">4</text>
<text x="43.3" y="19.9" text-anchor="end" font-size="12" textLength="6.6" lengthAdjust="spacingAndGlyphs">2</text>
<text x="43.3" y="55.5" text-anchor="end" font-size="12" textLength="6.6" lengthAdjust="spacingAndGlyphs">0</text>
<text x="48.7" y="91.0" text-anchor="end" font-size="12" textLength="6.6" lengthAdjust="spacingAndGlyphs">2</text>
<rect x="32.2" y="87.20" width="8.4" height="0.9" fill="#000"/>
<text x="48.7" y="126.6" text-anchor="end" font-size="12" textLength="6.6" lengthAdjust="spacingAndGlyphs">4</text>
<rect x="32.2" y="122.78" width="8.4" height="0.9" fill="#000"/>
<text x="48.7" y="162.2" text-anchor="end" font-size="12" textLength="6.6" lengthAdjust="spacingAndGlyphs">6</text>
<rect x="32.2" y="158.36" width="8.4" height="0.9" fill="#000"/>
<text x="403.6" y="19.4" text-anchor="end" font-size="12" textLength="13.6" lengthAdjust="spacingAndGlyphs">40</text>
<rect x="380.1" y="15.62" width="7.9" height="0.9" fill="#000"/>
<text x="403.6" y="76.2" text-anchor="end" font-size="12" textLength="13.6" lengthAdjust="spacingAndGlyphs">45</text>
<rect x="380.1" y="72.42" width="7.9" height="0.9" fill="#000"/>
<text x="403.6" y="133.0" text-anchor="end" font-size="12" textLength="13.6" lengthAdjust="spacingAndGlyphs">50</text>
<rect x="380.1" y="129.22" width="7.9" height="0.9" fill="#000"/>
<text x="403.6" y="189.8" text-anchor="end" font-size="12" textLength="13.6" lengthAdjust="spacingAndGlyphs">55</text>
<rect x="380.1" y="186.02" width="7.9" height="0.9" fill="#000"/>
<text x="125.0" y="217.8" font-size="11.5" style="stroke-width:0.15px" textLength="87.6" lengthAdjust="spacingAndGlyphs">log<tspan font-size="8.3" dy="3">10</tspan><tspan dy="-3" font-style="italic"> M</tspan><tspan font-size="8.3" dy="2.6" font-style="italic">ϕ</tspan><tspan dy="-2.6">(GeV)</tspan></text>
<text x="476.3" y="217.8" font-size="11.5" style="stroke-width:0.15px" textLength="87.6" lengthAdjust="spacingAndGlyphs">log<tspan font-size="8.3" dy="3">10</tspan><tspan dy="-3" font-style="italic"> M</tspan><tspan font-size="8.3" dy="2.6" font-style="italic">ϕ</tspan><tspan dy="-2.6">(GeV)</tspan></text>
<text transform="translate(11.4,118.4) rotate(-90)" font-size="11.5" style="stroke-width:0.15px" textLength="46.8" lengthAdjust="spacingAndGlyphs">log<tspan font-size="8.3" dy="2.6">10</tspan><tspan dy="-2.6"> Ω</tspan><tspan font-style="italic">h</tspan><tspan font-size="8.3" dy="-4">2</tspan></text>
<text transform="translate(362.4,131.9) rotate(-90)" font-size="11.5" style="stroke-width:0.15px" textLength="75.3" lengthAdjust="spacingAndGlyphs">log<tspan font-size="8.3" dy="2.6">10</tspan><tspan dy="-2.6">(</tspan><tspan font-style="italic">σ</tspan><tspan font-size="7.5" dy="-4.8">SI</tspan><tspan font-size="7.5" font-style="italic" dx="-7" dy="7.8">p</tspan><tspan dy="-3" dx="3">/cm</tspan><tspan font-size="8.3" dy="-4">2</tspan><tspan dy="4">)</tspan></text>
<text x="113.7" y="446.9" text-anchor="middle" font-size="12" textLength="6.6" lengthAdjust="spacingAndGlyphs">2</text>
<text x="169.2" y="446.9" text-anchor="middle" font-size="12" textLength="6.6" lengthAdjust="spacingAndGlyphs">3</text>
<text x="224.6" y="446.9" text-anchor="middle" font-size="12" textLength="6.6" lengthAdjust="spacingAndGlyphs">4</text>
<text x="465.6" y="446.9" text-anchor="middle" font-size="12" textLength="6.6" lengthAdjust="spacingAndGlyphs">2</text>
<text x="520.9" y="446.9" text-anchor="middle" font-size="12" textLength="6.6" lengthAdjust="spacingAndGlyphs">3</text>
<text x="576.1" y="446.9" text-anchor="middle" font-size="12" textLength="6.6" lengthAdjust="spacingAndGlyphs">4</text>
<text x="43.3" y="262.9" text-anchor="end" font-size="12" textLength="6.6" lengthAdjust="spacingAndGlyphs">2</text>
<text x="43.3" y="298.5" text-anchor="end" font-size="12" textLength="6.6" lengthAdjust="spacingAndGlyphs">0</text>
<text x="48.7" y="334.1" text-anchor="end" font-size="12" textLength="6.6" lengthAdjust="spacingAndGlyphs">2</text>
<rect x="32.2" y="330.20" width="8.4" height="0.9" fill="#000"/>
<text x="48.7" y="369.6" text-anchor="end" font-size="12" textLength="6.6" lengthAdjust="spacingAndGlyphs">4</text>
<rect x="32.2" y="365.78" width="8.4" height="0.9" fill="#000"/>
<text x="48.7" y="405.2" text-anchor="end" font-size="12" textLength="6.6" lengthAdjust="spacingAndGlyphs">6</text>
<rect x="32.2" y="401.36" width="8.4" height="0.9" fill="#000"/>
<text x="403.6" y="262.4" text-anchor="end" font-size="12" textLength="13.6" lengthAdjust="spacingAndGlyphs">40</text>
<rect x="380.1" y="258.62" width="7.9" height="0.9" fill="#000"/>
<text x="403.6" y="319.2" text-anchor="end" font-size="12" textLength="13.6" lengthAdjust="spacingAndGlyphs">45</text>
<rect x="380.1" y="315.42" width="7.9" height="0.9" fill="#000"/>
<text x="403.6" y="376.0" text-anchor="end" font-size="12" textLength="13.6" lengthAdjust="spacingAndGlyphs">50</text>
<rect x="380.1" y="372.22" width="7.9" height="0.9" fill="#000"/>
<text x="403.6" y="432.8" text-anchor="end" font-size="12" textLength="13.6" lengthAdjust="spacingAndGlyphs">55</text>
<rect x="380.1" y="429.02" width="7.9" height="0.9" fill="#000"/>
<text x="125.0" y="460.8" font-size="11.5" style="stroke-width:0.15px" textLength="87.6" lengthAdjust="spacingAndGlyphs">log<tspan font-size="8.3" dy="3">10</tspan><tspan dy="-3" font-style="italic"> M</tspan><tspan font-size="8.3" dy="2.6" font-style="italic">ϕ</tspan><tspan dy="-2.6">(GeV)</tspan></text>
<text x="476.3" y="460.8" font-size="11.5" style="stroke-width:0.15px" textLength="87.6" lengthAdjust="spacingAndGlyphs">log<tspan font-size="8.3" dy="3">10</tspan><tspan dy="-3" font-style="italic"> M</tspan><tspan font-size="8.3" dy="2.6" font-style="italic">ϕ</tspan><tspan dy="-2.6">(GeV)</tspan></text>
<text transform="translate(11.4,361.4) rotate(-90)" font-size="11.5" style="stroke-width:0.15px" textLength="46.8" lengthAdjust="spacingAndGlyphs">log<tspan font-size="8.3" dy="2.6">10</tspan><tspan dy="-2.6"> Ω</tspan><tspan font-style="italic">h</tspan><tspan font-size="8.3" dy="-4">2</tspan></text>
<text transform="translate(362.4,374.9) rotate(-90)" font-size="11.5" style="stroke-width:0.15px" textLength="75.3" lengthAdjust="spacingAndGlyphs">log<tspan font-size="8.3" dy="2.6">10</tspan><tspan dy="-2.6">(</tspan><tspan font-style="italic">σ</tspan><tspan font-size="7.5" dy="-4.8">SI</tspan><tspan font-size="7.5" font-style="italic" dx="-7" dy="7.8">p</tspan><tspan dy="-3" dx="3">/cm</tspan><tspan font-size="8.3" dy="-4">2</tspan><tspan dy="4">)</tspan></text>
<line x1="58.96" y1="67.7" x2="279.5" y2="67.7" stroke="#e80000" stroke-width="1.4" stroke-dasharray="4.3 1.17" stroke-dashoffset="0.77"/>
<text x="71.3" y="57.2" font-size="7" fill="#cc0000" style="stroke:#cc0000;stroke-width:0.12px" font-weight="bold" textLength="29.6" lengthAdjust="spacingAndGlyphs">PLANCK</text>
<line x1="58.96" y1="310.7" x2="279.5" y2="310.7" stroke="#e80000" stroke-width="1.4" stroke-dasharray="4.3 1.17" stroke-dashoffset="0.77"/>
<text x="71.3" y="300.2" font-size="7" fill="#cc0000" style="stroke:#cc0000;stroke-width:0.12px" font-weight="bold" textLength="29.6" lengthAdjust="spacingAndGlyphs">PLANCK</text>
<g clip-path="url(#clipRT)">
<path d="M410.60,99.60 C410.67,100.60 410.65,103.82 411.00,105.60 C411.35,107.38 411.62,108.73 412.70,110.30 C413.78,111.87 415.52,113.72 417.50,115.00 C419.48,116.28 422.23,117.30 424.60,118.00 C426.97,118.70 429.33,119.07 431.70,119.20 C434.07,119.33 436.23,119.10 438.80,118.80 C441.37,118.50 443.93,117.87 447.10,117.40 C450.27,116.93 452.32,117.08 457.80,116.00 C463.28,114.92 471.30,112.52 480.00,110.90 C488.70,109.28 499.17,108.12 510.00,106.30 C520.83,104.48 534.23,101.90 545.00,100.00 C555.77,98.10 569.67,95.75 574.60,94.90" stroke="#d46a6a" stroke-width="3" fill="none" stroke-linecap="round"/>
<path d="M410.10,97.90 C410.73,98.78 412.27,101.43 413.90,103.20 C415.53,104.97 417.72,106.92 419.90,108.50 C422.08,110.08 424.43,111.62 427.00,112.70 C429.57,113.78 432.53,114.45 435.30,115.00 C438.07,115.55 441.03,115.83 443.60,116.00 C446.17,116.17 448.33,116.18 450.70,116.00 C453.07,115.82 454.92,115.37 457.80,114.90 C460.68,114.43 464.30,113.80 468.00,113.20 C471.70,112.60 473.00,112.50 480.00,111.30 C487.00,110.10 499.17,108.15 510.00,106.00 C520.83,103.85 534.40,100.53 545.00,98.40 C555.60,96.27 568.83,94.07 573.60,93.20" stroke="#f2f2f2" stroke-width="1" fill="none"/>
<path d="M410.10,80.90 C410.73,81.65 412.27,83.67 413.90,85.40 C415.53,87.13 417.92,89.62 419.90,91.30 C421.88,92.98 423.83,94.55 425.80,95.50 C427.77,96.45 429.93,96.70 431.70,97.00 C433.47,97.30 434.82,97.42 436.40,97.30 C437.98,97.18 439.22,96.80 441.20,96.30 C443.18,95.80 445.53,95.13 448.30,94.30 C451.07,93.47 454.18,92.35 457.80,91.30 C461.42,90.25 462.97,89.50 470.00,88.00 C477.03,86.50 482.33,85.77 500.00,82.30 C517.67,78.83 563.33,69.72 576.00,67.20" stroke="#10c8d4" stroke-width="1.2" fill="none"/>
<path d="M410.10,76.50 C410.93,77.40 413.28,80.22 415.10,81.90 C416.92,83.58 419.02,85.42 421.00,86.60 C422.98,87.78 424.83,88.37 427.00,89.00 C429.17,89.63 431.83,90.25 434.00,90.40 C436.17,90.55 437.83,90.13 440.00,89.90 C442.17,89.67 444.00,89.40 447.00,89.00 C450.00,88.60 454.17,88.23 458.00,87.50 C461.83,86.77 463.00,86.12 470.00,84.60 C477.00,83.08 482.33,81.72 500.00,78.40 C517.67,75.08 563.33,66.98 576.00,64.70" stroke="#e0d000" stroke-width="1.4" fill="none" stroke-dasharray="2.9 0.8 0.9 0.8"/>
<path d="M410.10,75.30 C410.93,76.20 413.28,79.12 415.10,80.70 C416.92,82.28 419.02,83.72 421.00,84.80 C422.98,85.88 424.83,86.70 427.00,87.20 C429.17,87.70 431.83,87.75 434.00,87.80 C436.17,87.85 437.83,87.70 440.00,87.50 C442.17,87.30 444.00,86.98 447.00,86.60 C450.00,86.22 454.17,85.92 458.00,85.20 C461.83,84.48 463.00,83.78 470.00,82.30 C477.00,80.82 493.33,77.57 500.00,76.30 C506.67,75.03 497.33,77.10 510.00,74.70 C522.67,72.30 565.00,64.03 576.00,61.90" stroke="#e00000" stroke-width="1.4" fill="none" stroke-dasharray="3.5 1.75"/>
</g>
<line x1="533.2" y1="26.3" x2="546" y2="26.3" stroke="#18b8c8" stroke-width="1" stroke-dasharray="1.5 1.2"/>
<text x="548.4" y="28.1" font-size="6" fill="#14b4c4" style="stroke:#14b4c4;stroke-width:0.12px" font-weight="bold" textLength="47.3" lengthAdjust="spacingAndGlyphs">LUX - ZEPLIN</text>
<line x1="541.9" y1="32.3" x2="550.1" y2="32.3" stroke="#c8b800" stroke-width="1" stroke-dasharray="3 1 1 1"/>
<text x="553" y="33.7" font-size="6" fill="#c0b000" style="stroke:#c0b000;stroke-width:0.12px" font-weight="bold" textLength="34.5" lengthAdjust="spacingAndGlyphs">XENONnT</text>
<text x="547.8" y="39.0" font-size="6" fill="#cc0000" style="stroke:#cc0000;stroke-width:0.12px" font-weight="bold" textLength="33.8" lengthAdjust="spacingAndGlyphs">XENON1T</text>
<text x="425.7" y="136.3" font-size="8.6" fill="#c86262" style="stroke:#c86262;stroke-width:0.08px" textLength="56.7" lengthAdjust="spacingAndGlyphs">Neutrino floor</text>
<text x="433.9" y="147" font-size="6.2" fill="#f0f0f0" style="stroke:#f0f0f0;stroke-width:0.12px" textLength="40.9" lengthAdjust="spacingAndGlyphs">XENON200T</text>
<g clip-path="url(#clipRB)">
<path d="M410.60,342.60 C410.67,343.60 410.65,346.82 411.00,348.60 C411.35,350.38 411.62,351.73 412.70,353.30 C413.78,354.87 415.52,356.72 417.50,358.00 C419.48,359.28 422.23,360.30 424.60,361.00 C426.97,361.70 429.33,362.07 431.70,362.20 C434.07,362.33 436.23,362.10 438.80,361.80 C441.37,361.50 443.93,360.87 447.10,360.40 C450.27,359.93 452.32,360.08 457.80,359.00 C463.28,357.92 471.30,355.52 480.00,353.90 C488.70,352.28 499.17,351.12 510.00,349.30 C520.83,347.48 534.23,344.90 545.00,343.00 C555.77,341.10 569.67,338.75 574.60,337.90" stroke="#d46a6a" stroke-width="3" fill="none" stroke-linecap="round"/>
<path d="M410.10,340.90 C410.73,341.78 412.27,344.43 413.90,346.20 C415.53,347.97 417.72,349.92 419.90,351.50 C422.08,353.08 424.43,354.62 427.00,355.70 C429.57,356.78 432.53,357.45 435.30,358.00 C438.07,358.55 441.03,358.83 443.60,359.00 C446.17,359.17 448.33,359.18 450.70,359.00 C453.07,358.82 454.92,358.37 457.80,357.90 C460.68,357.43 464.30,356.80 468.00,356.20 C471.70,355.60 473.00,355.50 480.00,354.30 C487.00,353.10 499.17,351.15 510.00,349.00 C520.83,346.85 534.40,343.53 545.00,341.40 C555.60,339.27 568.83,337.07 573.60,336.20" stroke="#f2f2f2" stroke-width="1" fill="none"/>
<path d="M410.10,323.90 C410.73,324.65 412.27,326.67 413.90,328.40 C415.53,330.13 417.92,332.62 419.90,334.30 C421.88,335.98 423.83,337.55 425.80,338.50 C427.77,339.45 429.93,339.70 431.70,340.00 C433.47,340.30 434.82,340.42 436.40,340.30 C437.98,340.18 439.22,339.80 441.20,339.30 C443.18,338.80 445.53,338.13 448.30,337.30 C451.07,336.47 454.18,335.35 457.80,334.30 C461.42,333.25 462.97,332.50 470.00,331.00 C477.03,329.50 482.33,328.77 500.00,325.30 C517.67,321.83 563.33,312.72 576.00,310.20" stroke="#10c8d4" stroke-width="1.2" fill="none"/>
<path d="M410.10,319.50 C410.93,320.40 413.28,323.22 415.10,324.90 C416.92,326.58 419.02,328.42 421.00,329.60 C422.98,330.78 424.83,331.37 427.00,332.00 C429.17,332.63 431.83,333.25 434.00,333.40 C436.17,333.55 437.83,333.13 440.00,332.90 C442.17,332.67 444.00,332.40 447.00,332.00 C450.00,331.60 454.17,331.23 458.00,330.50 C461.83,329.77 463.00,329.12 470.00,327.60 C477.00,326.08 482.33,324.72 500.00,321.40 C517.67,318.08 563.33,309.98 576.00,307.70" stroke="#e0d000" stroke-width="1.4" fill="none" stroke-dasharray="2.9 0.8 0.9 0.8"/>
<path d="M410.10,318.30 C410.93,319.20 413.28,322.12 415.10,323.70 C416.92,325.28 419.02,326.72 421.00,327.80 C422.98,328.88 424.83,329.70 427.00,330.20 C429.17,330.70 431.83,330.75 434.00,330.80 C436.17,330.85 437.83,330.70 440.00,330.50 C442.17,330.30 444.00,329.98 447.00,329.60 C450.00,329.22 454.17,328.92 458.00,328.20 C461.83,327.48 463.00,326.78 470.00,325.30 C477.00,323.82 493.33,320.57 500.00,319.30 C506.67,318.03 497.33,320.10 510.00,317.70 C522.67,315.30 565.00,307.03 576.00,304.90" stroke="#e00000" stroke-width="1.4" fill="none" stroke-dasharray="3.5 1.75"/>
</g>
<line x1="533.2" y1="269.3" x2="546" y2="269.3" stroke="#18b8c8" stroke-width="1" stroke-dasharray="1.5 1.2"/>
<text x="548.4" y="271.1" font-size="6" fill="#14b4c4" style="stroke:#14b4c4;stroke-width:0.12px" font-weight="bold" textLength="47.3" lengthAdjust="spacingAndGlyphs">LUX - ZEPLIN</text>
<line x1="541.9" y1="275.3" x2="550.1" y2="275.3" stroke="#c8b800" stroke-width="1" stroke-dasharray="3 1 1 1"/>
<text x="553" y="276.7" font-size="6" fill="#c0b000" style="stroke:#c0b000;stroke-width:0.12px" font-weight="bold" textLength="34.5" lengthAdjust="spacingAndGlyphs">XENONnT</text>
<text x="547.8" y="282.0" font-size="6" fill="#cc0000" style="stroke:#cc0000;stroke-width:0.12px" font-weight="bold" textLength="33.8" lengthAdjust="spacingAndGlyphs">XENON1T</text>
<text x="425.7" y="379.3" font-size="8.6" fill="#c86262" style="stroke:#c86262;stroke-width:0.08px" textLength="56.7" lengthAdjust="spacingAndGlyphs">Neutrino floor</text>
<text x="433.9" y="390.0" font-size="6.2" fill="#f0f0f0" style="stroke:#f0f0f0;stroke-width:0.12px" textLength="40.9" lengthAdjust="spacingAndGlyphs">XENON200T</text>
</svg></body></html>
